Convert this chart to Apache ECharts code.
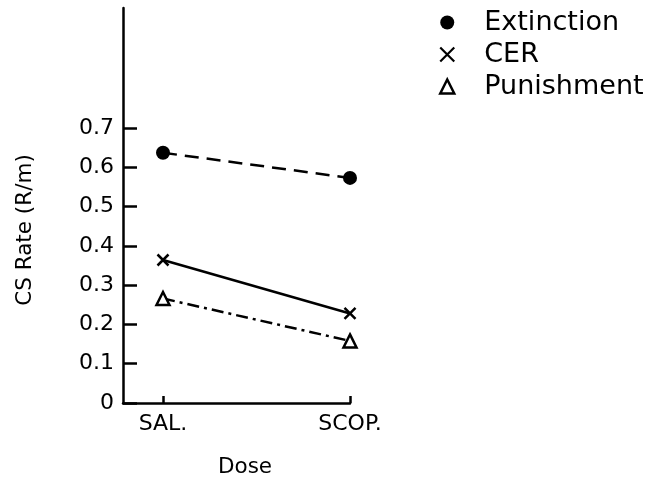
<!DOCTYPE html>
<html>
<head>
<meta charset="utf-8">
<script src="https://cdn.jsdelivr.net/npm/echarts@6/dist/echarts.min.js"></script>
<style>
  html, body { margin: 0; padding: 0; background: #fff; }
  #chart { width: 655px; height: 478px; }
</style>
</head>
<body>
<div id="chart"></div>
<script>
// ---- data ----
var categories = ['SAL.', 'SCOP.'];
var seriesNames = ['Extinction', 'CER', 'Punishment'];
var extinction = [0.637, 0.573];
var cer = [0.364, 0.228];
var punishment = [0.266, 0.158];
var yTickLabels = ['0', '0.1', '0.2', '0.3', '0.4', '0.5', '0.6', '0.7'];
var yAxisTitle = 'CS Rate (R/m)';
var xAxisTitle = 'Dose';

var FONT = 'DejaVu Sans';
var INK = '#000';
var crossPath = 'path://M0,0L10,10M10,0L0,10';

var chart = echarts.init(document.getElementById('chart'), null, { renderer: 'canvas' });

chart.setOption({
  animation: false,
  backgroundColor: '#fff',
  textStyle: { fontFamily: FONT, color: INK },
  grid: [
    { left: 123, top: 8, width: 227, height: 395 },   // frame lines
    { left: 123, top: 128, width: 227, height: 275 }, // y ticks/labels
    { left: 163, top: 128, width: 187, height: 275 }  // data + x ticks
  ],
  xAxis: [
    { gridIndex: 0, type: 'value', min: 0, max: 1,
      axisLine: { show: true, lineStyle: { color: INK, width: 2.5 } },
      axisTick: { show: false }, axisLabel: { show: false }, splitLine: { show: false } },
    { gridIndex: 1, type: 'value', min: 0, max: 1, show: false },
    { gridIndex: 2, type: 'category', data: categories, boundaryGap: false,
      axisLine: { show: false },
      axisTick: { show: true, inside: true, length: 7, lineStyle: { color: INK, width: 2.5 } },
      axisLabel: { show: true, margin: 10, fontSize: 22, fontFamily: FONT, color: INK },
      splitLine: { show: false } }
  ],
  yAxis: [
    { gridIndex: 0, type: 'value', min: 0, max: 1,
      axisLine: { show: true, lineStyle: { color: INK, width: 2.5 } },
      axisTick: { show: false }, axisLabel: { show: false }, splitLine: { show: false } },
    { gridIndex: 1, type: 'value', min: 0, max: 0.7, interval: 0.1,
      axisLine: { show: false },
      axisTick: { show: true, inside: true, length: 14, lineStyle: { color: INK, width: 2.5 } },
      axisLabel: { show: true, margin: 9, fontSize: 22, fontFamily: FONT, color: INK,
        formatter: function (v, i) { return yTickLabels[i]; } },
      splitLine: { show: false } },
    { gridIndex: 2, type: 'value', min: 0, max: 0.7, show: false }
  ],
  legend: {
    orient: 'vertical', left: 439, top: 9, padding: 0, itemGap: 5,
    itemWidth: 14, itemHeight: 14, selectedMode: false,
    textStyle: { fontSize: 27, fontFamily: FONT, color: INK, padding: [0, 0, 0, 25] },
    data: [
      { name: seriesNames[0], icon: 'circle' },
      { name: seriesNames[1], icon: crossPath, itemStyle: { color: INK, borderColor: INK, borderWidth: 2.2 } },
      { name: seriesNames[2], icon: 'triangle', itemStyle: { color: '#fff', borderColor: INK, borderWidth: 2.5 } }
    ]
  },
  graphic: [
    { type: 'text', x: 25, y: 230, rotation: Math.PI / 2,
      style: { text: yAxisTitle, fontSize: 21.5, fontFamily: FONT, fill: INK, align: 'center', verticalAlign: 'middle' } },
    { type: 'text', x: 245, y: 467,
      style: { text: xAxisTitle, fontSize: 21.5, fontFamily: FONT, fill: INK, align: 'center', verticalAlign: 'middle' } }
  ],
  series: [
    { name: seriesNames[0], type: 'line', xAxisIndex: 2, yAxisIndex: 2, data: extinction,
      symbol: 'circle', symbolSize: 14,
      itemStyle: { color: INK },
      lineStyle: { color: INK, width: 2.5, type: [14, 8] } },
    { name: seriesNames[1], type: 'line', xAxisIndex: 2, yAxisIndex: 2, data: cer,
      symbol: crossPath, symbolSize: 11,
      itemStyle: { color: INK, borderColor: INK, borderWidth: 2.5 },
      lineStyle: { color: INK, width: 2.5 } },
    { name: seriesNames[2], type: 'line', xAxisIndex: 2, yAxisIndex: 2, data: punishment,
      symbol: 'triangle', symbolSize: 13,
      itemStyle: { color: '#fff', borderColor: INK, borderWidth: 2.5 },
      lineStyle: { color: INK, width: 2.5, type: [12, 5, 3, 5] } }
  ]
});
</script>
</body>
</html>
